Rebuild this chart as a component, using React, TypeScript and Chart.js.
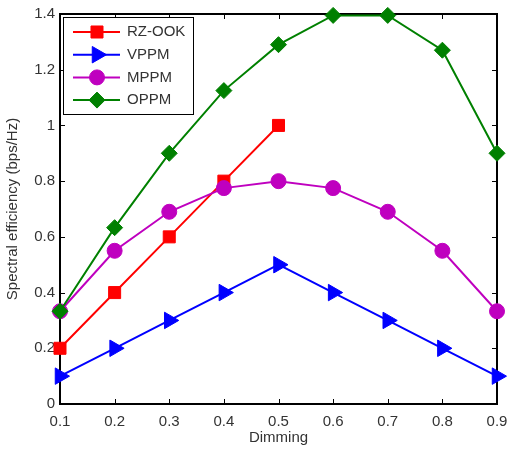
import { useEffect, useRef } from 'react';
import { Chart, registerables } from 'chart.js';
import { drawPoint } from 'chart.js/helpers';

Chart.register(...registerables);

// Dimming levels (x) and spectral efficiency per modulation scheme (y)
const dimming = [0.1, 0.2, 0.3, 0.4, 0.5, 0.6, 0.7, 0.8, 0.9];
const rzOok = [0.2, 0.4, 0.6, 0.8, 1.0];
const vppm = [0.1, 0.2, 0.3, 0.4, 0.5, 0.4, 0.3, 0.2, 0.1];
const mppm = [0.333, 0.55, 0.69, 0.775, 0.8, 0.775, 0.69, 0.55, 0.333];
const oppm = [0.333, 0.633, 0.9, 1.125, 1.29, 1.395, 1.395, 1.27, 0.9];

const seriesNames = ['RZ-OOK', 'VPPM', 'MPPM', 'OPPM'];
const xTicks = [0.1, 0.2, 0.3, 0.4, 0.5, 0.6, 0.7, 0.8, 0.9];
const yTicks = [0, 0.2, 0.4, 0.6, 0.8, 1, 1.2, 1.4];

const FONT = 'Liberation Sans, Arial, Helvetica, sans-serif';
const TEXT = '#333333';

const toPoints = (ys: number[]) => ys.map((y, i) => ({ x: dimming[i], y }));

// Box around the plot area with inward tick marks on all four sides
const framePlugin = {
  id: 'frame',
  beforeDatasetsDraw(chart: any) {
    const { ctx, chartArea } = chart;
    const { left, top, right, bottom } = chartArea;
    const xs = chart.scales.x;
    const ys = chart.scales.y;
    ctx.save();
    ctx.strokeStyle = '#000';
    ctx.lineWidth = 1;
    const len = 5;
    ctx.beginPath();
    xs.ticks.forEach((t: any) => {
      const px = Math.round(xs.getPixelForValue(t.value)) + 0.5;
      ctx.moveTo(px, bottom);
      ctx.lineTo(px, bottom - len);
      ctx.moveTo(px, top);
      ctx.lineTo(px, top + len);
    });
    ys.ticks.forEach((t: any) => {
      const py = Math.round(ys.getPixelForValue(t.value)) + 0.5;
      ctx.moveTo(left, py);
      ctx.lineTo(left + len, py);
      ctx.moveTo(right, py);
      ctx.lineTo(right - len, py);
    });
    ctx.stroke();
    ctx.lineWidth = 2;
    ctx.strokeRect(left, top, right - left, bottom - top);
    ctx.restore();
  },
};

// Boxed legend in the upper-left corner of the plot area
const boxLegendPlugin = {
  id: 'boxLegend',
  afterDatasetsDraw(chart: any) {
    const { ctx, chartArea } = chart;
    const x0 = chartArea.left + 3;
    const y0 = chartArea.top + 3;
    const w = 130;
    const h = 97;
    ctx.save();
    ctx.fillStyle = '#fff';
    ctx.fillRect(x0, y0, w, h);
    ctx.strokeStyle = '#000';
    ctx.lineWidth = 1;
    ctx.strokeRect(x0 + 0.5, y0 + 0.5, w, h);
    chart.data.datasets.forEach((ds: any, i: number) => {
      const y = y0 + 15 + i * 22.7;
      ctx.strokeStyle = ds.borderColor;
      ctx.lineWidth = 2;
      ctx.beginPath();
      ctx.moveTo(x0 + 10, y);
      ctx.lineTo(x0 + 57, y);
      ctx.stroke();
      ctx.fillStyle = ds.pointBackgroundColor;
      ctx.strokeStyle = ds.pointBorderColor;
      ctx.lineWidth = 1;
      drawPoint(
        ctx,
        { pointStyle: ds.pointStyle, rotation: ds.pointRotation || 0, radius: ds.pointRadius, borderWidth: 1 },
        x0 + 34,
        y
      );
      ctx.fillStyle = TEXT;
      ctx.font = `15px ${FONT}`;
      ctx.textBaseline = 'middle';
      ctx.textAlign = 'left';
      ctx.fillText(ds.label, x0 + 64, y);
    });
    ctx.restore();
  },
};

function makeSeries(label: string, ys: number[], color: string, style: string, radius: number, order: number, rotation = 0) {
  return {
    label,
    data: toPoints(ys),
    borderColor: color,
    backgroundColor: color,
    pointBackgroundColor: color,
    pointBorderColor: color,
    pointBorderWidth: 1,
    pointStyle: style,
    pointRadius: radius,
    pointRotation: rotation,
    borderWidth: 2,
    tension: 0,
    clip: false as any,
    order,
  };
}

export default function App() {
  const canvasRef = useRef<HTMLCanvasElement | null>(null);

  useEffect(() => {
    document.body.style.margin = '0';
    const canvas = canvasRef.current;
    if (!canvas) return;
    const tickFont = { family: FONT, size: 15 };
    const chart = new Chart(canvas, {
      type: 'line',
      data: {
        datasets: [
          makeSeries(seriesNames[0], rzOok, '#ff0000', 'rect', 8.5, 4),
          makeSeries(seriesNames[1], vppm, '#0000ff', 'triangle', 9.5, 3, 90),
          makeSeries(seriesNames[2], mppm, '#bf00bf', 'circle', 7.5, 2),
          makeSeries(seriesNames[3], oppm, '#008000', 'rectRot', 8, 1),
        ] as any,
      },
      options: {
        responsive: false,
        animation: false,
        layout: { padding: { left: 0, top: 12, right: 23, bottom: 0 } },
        plugins: {
          legend: { display: false },
          tooltip: { enabled: false },
        },
        scales: {
          x: {
            type: 'linear',
            min: 0.1,
            max: 0.9,
            afterBuildTicks: (s: any) => {
              s.ticks = xTicks.map((v) => ({ value: v }));
            },
            afterFit: (s: any) => {
              s.height = 55;
            },
            grid: { display: false, drawTicks: false },
            border: { display: false },
            ticks: { padding: 9, font: tickFont, color: TEXT, callback: (v: any) => String(v) },
            title: {
              display: true,
              text: 'Dimming',
              font: tickFont,
              color: TEXT,
              padding: { top: 0, bottom: 12 },
            },
          },
          y: {
            type: 'linear',
            min: 0,
            max: 1.4,
            afterBuildTicks: (s: any) => {
              s.ticks = yTicks.map((v) => ({ value: v }));
            },
            afterFit: (s: any) => {
              s.width = 60;
            },
            grid: { display: false, drawTicks: false },
            border: { display: false },
            ticks: { padding: 5, font: tickFont, color: TEXT, callback: (v: any) => String(v) },
            title: {
              display: true,
              text: 'Spectral efficiency (bps/Hz)',
              font: tickFont,
              color: TEXT,
              padding: { top: 4, bottom: 0 },
            },
          },
        },
      } as any,
      plugins: [framePlugin, boxLegendPlugin],
    });
    return () => chart.destroy();
  }, []);

  return <canvas ref={canvasRef} width={520} height={459} style={{ display: 'block' }} />;
}
